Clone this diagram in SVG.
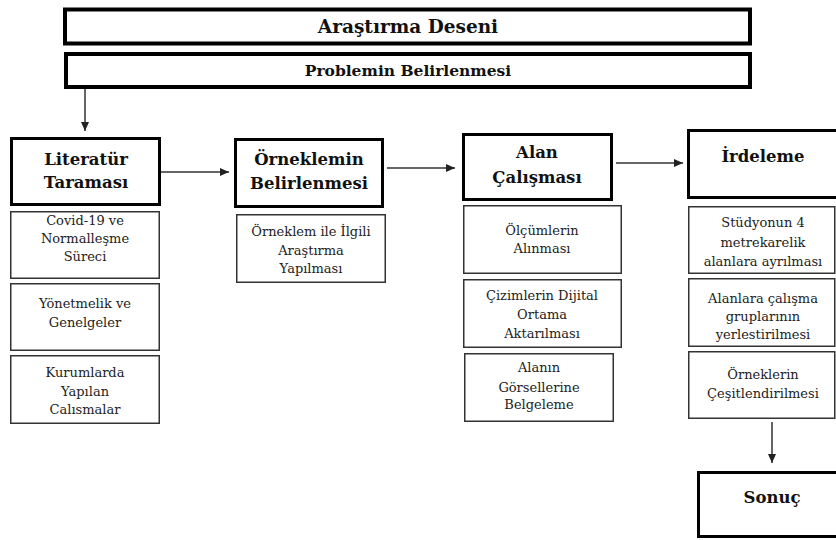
<svg xmlns="http://www.w3.org/2000/svg" width="836" height="540" viewBox="0 0 836 540">
<defs>
<marker id="ah" markerWidth="10" markerHeight="10" refX="9" refY="5" orient="auto" markerUnits="userSpaceOnUse">
<path d="M0,1 L9,5 L0,9 Z" fill="#222"/>
</marker>
<style>
text{font-family:'DejaVu Serif','Liberation Serif',serif;fill:#111;text-anchor:middle}
.top{fill:#fff;stroke:#000;stroke-width:4}
.main{fill:#fff;stroke:#000;stroke-width:3}
.sub{fill:#fff;stroke:#333;stroke-width:1.5}
.h{font-size:16.5px;font-weight:bold}
.s{font-size:13px;fill:#222}
.c{fill:none;stroke:#333;stroke-width:1.5}
</style>
</defs>
<rect width="836" height="540" fill="#fff"/>
<g id="arastirma-deseni">
<rect class="top" x="65" y="9.5" width="685" height="34"/>
<text x="408" y="33" style="font-size:18.5px;font-weight:bold">Araştırma Deseni</text>
</g>
<g id="problemin-belirlenmesi">
<rect class="top" x="66" y="54" width="684" height="33"/>
<text x="408" y="76" style="font-size:15.5px;font-weight:bold">Problemin Belirlenmesi</text>
</g>
<g id="literatur">
<rect class="main" x="11.5" y="138.5" width="148" height="66"/>
<text class="h" x="86" y="165">Literatür</text>
<text class="h" x="86" y="188">Taraması</text>
</g>
<g id="lit-sub1">
<rect class="sub" x="10.75" y="211.75" width="148.5" height="66.5"/>
<text class="s" x="85" y="225">Covid-19 ve</text>
<text class="s" x="85" y="243">Normalleşme</text>
<text class="s" x="85" y="261">Süreci</text>
</g>
<g id="lit-sub2">
<rect class="sub" x="10.75" y="283.75" width="148.5" height="66.5"/>
<text class="s" x="85" y="308">Yönetmelik ve</text>
<text class="s" x="85" y="327">Genelgeler</text>
</g>
<g id="lit-sub3">
<rect class="sub" x="10.75" y="355.75" width="148.5" height="67.5"/>
<text class="s" x="85" y="377">Kurumlarda</text>
<text class="s" x="85" y="396">Yapılan</text>
<text class="s" x="85" y="414">Calısmalar</text>
</g>
<g id="orneklemin">
<rect class="main" x="235.5" y="139.5" width="147" height="67"/>
<text class="h" x="309" y="165">Örneklemin</text>
<text class="h" x="309" y="189">Belirlenmesi</text>
</g>
<g id="orn-sub1">
<rect class="sub" x="236.75" y="214.75" width="148.5" height="67.5"/>
<text class="s" x="311" y="236">Örneklem ile İlgili</text>
<text class="s" x="311" y="255">Araştırma</text>
<text class="s" x="311" y="273">Yapılması</text>
</g>
<g id="alan">
<rect class="main" x="463.5" y="134.5" width="148" height="65"/>
<text class="h" x="537" y="158">Alan</text>
<text class="h" x="537" y="183">Çalışması</text>
</g>
<g id="alan-sub1">
<rect class="sub" x="463.75" y="205.75" width="157.5" height="67.5"/>
<text class="s" x="542" y="235">Ölçümlerin</text>
<text class="s" x="542" y="253">Alınması</text>
</g>
<g id="alan-sub2">
<rect class="sub" x="463.75" y="279.75" width="157.5" height="67.5"/>
<text class="s" x="542" y="300">Çizimlerin Dijital</text>
<text class="s" x="542" y="319">Ortama</text>
<text class="s" x="542" y="338">Aktarılması</text>
</g>
<g id="alan-sub3">
<rect class="sub" x="464.75" y="353.75" width="148.5" height="67.5"/>
<text class="s" x="539" y="372">Alanın</text>
<text class="s" x="539" y="392">Görsellerine</text>
<text class="s" x="539" y="409">Belgeleme</text>
</g>
<g id="irdeleme">
<rect class="main" x="688.5" y="130.5" width="150" height="67"/>
<text class="h" x="763" y="162">İrdeleme</text>
</g>
<g id="ird-sub1">
<rect class="sub" x="688.75" y="206.75" width="146" height="66.5"/>
<text class="s" x="763" y="227">Stüdyonun 4</text>
<text class="s" x="763" y="247">metrekarelik</text>
<text class="s" x="763" y="266">alanlara ayrılması</text>
</g>
<g id="ird-sub2">
<rect class="sub" x="688.75" y="278.75" width="146" height="67.5"/>
<text class="s" x="763" y="303">Alanlara çalışma</text>
<text class="s" x="763" y="321">gruplarının</text>
<text class="s" x="763" y="339">yerlestirilmesi</text>
</g>
<g id="ird-sub3">
<rect class="sub" x="688.75" y="351.75" width="146" height="66.5"/>
<text class="s" x="763" y="379">Örneklerin</text>
<text class="s" x="763" y="398">Çeşitlendirilmesi</text>
</g>
<g id="sonuc">
<rect class="main" x="698.5" y="472.5" width="150" height="64"/>
<text class="h" x="772" y="503">Sonuç</text>
</g>
<g id="connectors">
<line class="c" x1="85" y1="89" x2="85" y2="131" marker-end="url(#ah)"/>
<line class="c" x1="161" y1="172" x2="229" y2="172" marker-end="url(#ah)"/>
<line class="c" x1="387" y1="168" x2="455" y2="168" marker-end="url(#ah)"/>
<line class="c" x1="616" y1="163" x2="683" y2="163" marker-end="url(#ah)"/>
<line class="c" x1="772" y1="422" x2="772" y2="463" marker-end="url(#ah)"/>
</g>
</svg>
